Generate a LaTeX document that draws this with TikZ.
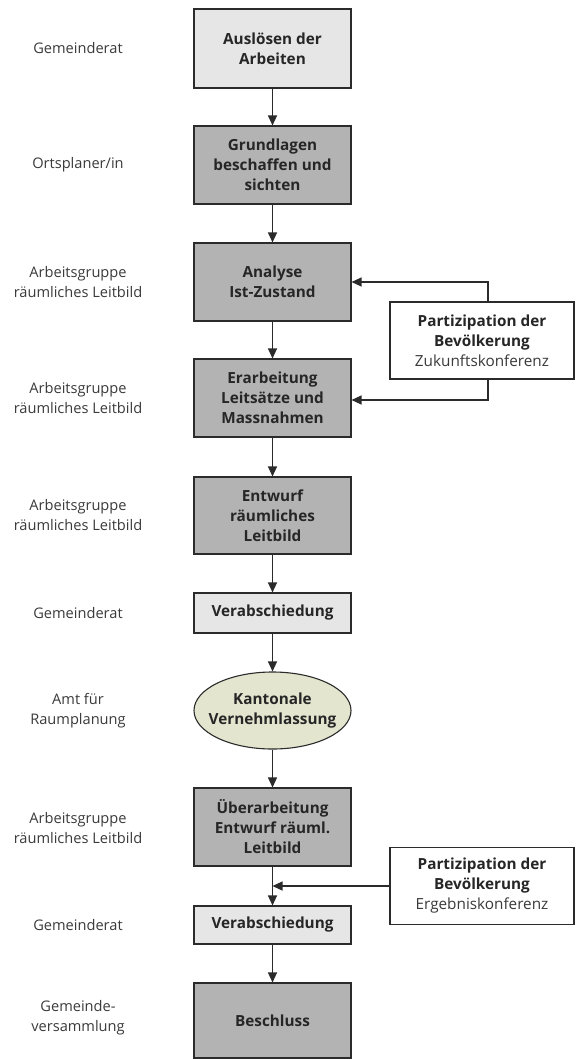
\documentclass[tikz,border=0pt]{standalone}
\usepackage{fontspec}
\setmainfont{Open Sans}
\usetikzlibrary{arrows.meta,shapes.geometric,calc}
\definecolor{lightbox}{HTML}{E6E6E6}
\definecolor{darkbox}{HTML}{B3B3B3}
\definecolor{ellfill}{HTML}{E3E5CF}
\definecolor{edge}{HTML}{2B2B2B}
\definecolor{labtxt}{HTML}{3A3A3A}
\begin{document}
\begin{tikzpicture}[x=1pt,y=-1pt,
  base/.style={draw=edge,line width=1.1pt,align=center,inner sep=0pt,
    font=\fontsize{15.3}{20}\selectfont\bfseries,text=black!85,minimum width=157pt},
  lightstep/.style={base,fill=lightbox,rectangle},
  darkstep/.style={base,fill=darkbox,rectangle},
  ellstep/.style={base,fill=ellfill,ellipse,inner xsep=-12pt,inner ysep=0pt,minimum width=157pt,minimum height=77pt},
  partbox/.style={draw=edge,line width=1.1pt,fill=white,align=center,inner sep=0pt,
    minimum width=184pt,minimum height=77pt,font=\fontsize{15.3}{20}\selectfont,text=black!85},
  role/.style={align=center,font=\fontsize{14.6}{20}\selectfont,text=labtxt},
  flow/.style={draw=edge,line width=1.2pt,-{Triangle[length=10pt,width=9pt]}}]
\useasboundingbox (0,0) rectangle (575,1059);
\fill[white] (0,0) rectangle (575,1059);

% main column
\node[lightstep,minimum height=79pt] (B1) at (272.5,48.5) {Auslösen der\\Arbeiten};
\node[darkstep,minimum height=78pt] (B2) at (272.5,165) {Grundlagen\\beschaffen und\\sichten};
\node[darkstep,minimum height=78pt] (B3) at (272.5,282) {Analyse\\Ist-Zustand};
\node[darkstep,minimum height=78pt] (B4) at (272.5,398) {Erarbeitung\\Leitsätze und\\Massnahmen};
\node[darkstep,minimum height=77pt] (B5) at (272.5,515.5) {Entwurf\\räumliches\\Leitbild};
\node[lightstep,minimum height=40pt] (B6) at (272.5,613) {Verabschiedung};
\node[ellstep] (B7) at (272.5,710.5) {Kantonale\\Vernehmlassung};
\node[darkstep,minimum height=78pt] (B8) at (272.5,827) {Überarbeitung\\Entwurf räuml.\\Leitbild};
\node[lightstep,minimum height=38pt] (B9) at (272.5,925) {Verabschiedung};
\node[darkstep,minimum height=75pt] (B10) at (272.5,1020.5) {Beschluss};

% participation boxes
\node[partbox] (P1) at (482,340.5) {\textbf{Partizipation der}\\\textbf{Bevölkerung}\\{\color{labtxt}Zukunftskonferenz}};
\node[partbox] (P2) at (482,886) {\textbf{Partizipation der}\\\textbf{Bevölkerung}\\{\color{labtxt}Ergebniskonferenz}};

% roles
\node[role] (R1) at (78,48) {Gemeinderat};
\node[role] (R2) at (78,165) {Ortsplaner/in};
\node[role] (R3) at (78,282) {Arbeitsgruppe\\räumliches Leitbild};
\node[role] (R4) at (78,398) {Arbeitsgruppe\\räumliches Leitbild};
\node[role] (R5) at (78,515) {Arbeitsgruppe\\räumliches Leitbild};
\node[role] (R6) at (78,613) {Gemeinderat};
\node[role] (R7) at (78,711) {Amt für\\Raumplanung};
\node[role] (R8) at (78,828) {Arbeitsgruppe\\räumliches Leitbild};
\node[role] (R9) at (78,925) {Gemeinderat};
\node[role] (R10) at (78,1018) {Gemeinde-\\versammlung};

% flow
\draw[flow] (B1) -- (B2);
\draw[flow] (B2) -- (B3);
\draw[flow] (B3) -- (B4);
\draw[flow] (B4) -- (B5);
\draw[flow] (B5) -- (B6);
\draw[flow] (B6) -- (B7);
\draw[flow] (B7) -- (B8);
\draw[flow] (B8) -- (B9);
\draw[flow] (B9) -- (B10);

% feedback
\draw[flow] ([xshift=6pt]P1.north) |- (B3.east);
\draw[flow] ([xshift=6pt]P1.south) |- ([yshift=-2pt]B4.east);
\coordinate (J) at (B8.south |- P2.west);
\draw[flow] (P2.west) -- (J);
\end{tikzpicture}
\end{document}
